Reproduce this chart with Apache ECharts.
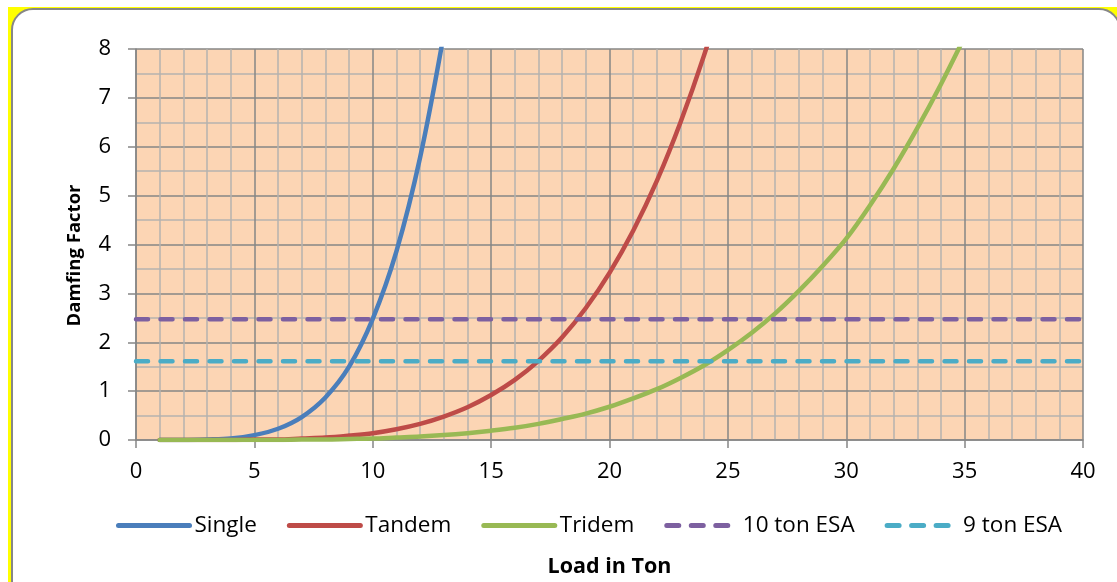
<!DOCTYPE html>
<html>
<head>
<meta charset="utf-8">
<script src="https://cdn.jsdelivr.net/npm/echarts@6/dist/echarts.min.js"></script>
<style>
  html, body { margin:0; padding:0; width:1117px; height:582px; overflow:hidden; background:#ffffff; }
  #yellow { position:absolute; left:8px; top:7px; width:1130px; height:600px; background:#ffff00; }
  #box { position:absolute; left:11px; top:8px; width:1110px; height:600px; box-sizing:border-box;
         border:2px solid #878787; border-radius:22px; background:#ffffff; }
  #chart { position:absolute; left:0; top:0; width:1117px; height:582px; }
</style>
</head>
<body>
<div id="yellow"></div>
<div id="box"></div>
<div id="chart"></div>
<script>
// Load in ton (x) and damping factor (y)
const singleX = [1,2,3,4,5,6,7,8,9,10,11,12,13];
const singleY = [0.00,0.00,0.01,0.03,0.10,0.23,0.47,0.87,1.50,2.48,3.86,5.78,8.30];

const tandemX = [1,2,3,4,5,6,7,8,9,10,11,12,13,14,15,16,17,18,19,20,21,22,23,24,25];
const tandemY = [0.00,0.00,0.00,0.00,0.01,0.01,0.03,0.05,0.09,0.14,0.22,0.33,0.48,0.67,0.92,1.23,1.62,2.10,2.70,3.42,4.28,5.30,6.50,7.88,9.45];

const tridemX = [1,2,3,4,5,6,7,8,9,10,11,12,13,14,15,16,17,18,19,20,21,22,23,24,25,26,27,28,29,30,31,32,33,34,35];
const tridemY = [0.00,0.00,0.00,0.00,0.00,0.00,0.01,0.01,0.02,0.03,0.05,0.07,0.10,0.14,0.19,0.25,0.33,0.43,0.54,0.68,0.85,1.04,1.27,1.53,1.84,2.19,2.59,3.05,3.56,4.12,4.80,5.55,6.38,7.28,8.25];

const esaX = [0, 40];
const esa10Y = [2.47, 2.47];
const esa9Y = [1.61, 1.61];

const names = ['Single','Tandem','Tridem','10 ton ESA','9 ton ESA'];
const xTicks = [0,5,10,15,20,25,30,35,40];
const yTicks = [0,1,2,3,4,5,6,7,8];

function pairs(xs, ys){ return xs.map((x,i)=>[x, ys[i]]); }

const FONT = '"Open Sans", "Noto Sans", sans-serif';
const chart = echarts.init(document.getElementById('chart'), null, {renderer:'canvas'});

function lineSeries(name, data, color, dashed){
  return {
    name, type:'line', data, smooth: dashed ? false : 0.35, symbol:'none', clip:true,
    lineStyle: dashed ? {color, width:4.5, type:[12,12.5], cap:'round'} : {color, width:4.5, cap:'round'},
    itemStyle:{color}, z: 5
  };
}

chart.setOption({
  animation:false,
  backgroundColor:'transparent',
  textStyle:{fontFamily:FONT},
  grid:{left:136, right:34, top:49, bottom:142, show:true, backgroundColor:'#FCD5B4', borderWidth:0,
        containLabel:false, outerBoundsMode:'none'},
  legend:{
    data:names, bottom:40, left:111, itemWidth:71, itemHeight:14, itemGap:30,
    itemStyle:{opacity:0},
    lineStyle:{width:5, cap:'round'},
    textStyle:{fontFamily:FONT, fontSize:22.5, color:'#000'}
  },
  xAxis:{
    type:'value', min:0, max:40, interval:5,
    name:'Load in Ton', nameLocation:'middle', nameGap:116,
    nameTextStyle:{fontFamily:FONT, fontSize:21.5, fontWeight:'bold', color:'#000'},
    axisLine:{show:true, lineStyle:{color:'#868686', width:1.5}},
    axisTick:{show:true, length:8, lineStyle:{color:'#868686', width:1.5}},
    axisLabel:{margin:21, fontFamily:FONT, fontSize:22, color:'#000',
      formatter:v=> xTicks.includes(v) ? String(v) : ''},
    splitLine:{show:true, lineStyle:{color:'#868686', width:1.5}},
    minorTick:{show:true, splitNumber:5, length:0},
    minorSplitLine:{show:true, lineStyle:{color:'#B5B2AE', width:1.5}}
  },
  yAxis:{
    type:'value', min:0, max:8, interval:1,
    name:'Damfing Factor', nameLocation:'middle', nameGap:52,
    nameTextStyle:{fontFamily:FONT, fontSize:18.5, fontWeight:'bold', color:'#000', padding:[0,22,0,0]},
    axisLine:{show:true, lineStyle:{color:'#868686', width:1.5}},
    axisTick:{show:true, length:8, lineStyle:{color:'#868686', width:1.5}},
    axisLabel:{margin:25, fontFamily:FONT, fontSize:22, color:'#000',
      formatter:v=> yTicks.includes(v) ? String(v) : ''},
    splitLine:{show:true, lineStyle:{color:'#868686', width:1.5}},
    minorTick:{show:true, splitNumber:2, length:0},
    minorSplitLine:{show:true, lineStyle:{color:'#B5B2AE', width:1.5}}
  },
  series:[
    lineSeries('Single', pairs(singleX, singleY), '#4A7EBB', false),
    lineSeries('Tandem', pairs(tandemX, tandemY), '#BE4B48', false),
    lineSeries('Tridem', pairs(tridemX, tridemY), '#98B954', false),
    lineSeries('10 ton ESA', pairs(esaX, esa10Y), '#7D60A0', true),
    lineSeries('9 ton ESA', pairs(esaX, esa9Y), '#4BACC6', true)
  ]
});
</script>
</body>
</html>
